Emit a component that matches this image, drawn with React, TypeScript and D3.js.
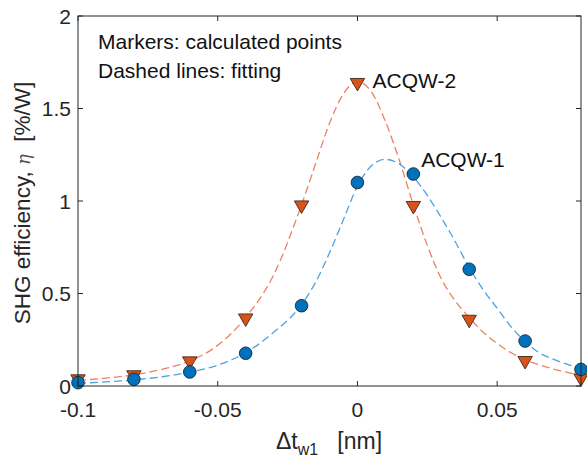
import { useEffect, useRef } from "react";
import * as d3 from "d3";

// calculated points
const dtPoints = [-0.1, -0.08, -0.06, -0.04, -0.02, 0, 0.02, 0.04, 0.06, 0.08];
const acqw1Points = [0.018, 0.036, 0.076, 0.177, 0.434, 1.1, 1.146, 0.631, 0.243, 0.09];
const acqw2Points = [0.038, 0.06, 0.135, 0.367, 0.978, 1.64, 0.975, 0.36, 0.137, 0.043];

// fitted curves
const fitX = [
  -0.1, -0.09, -0.08, -0.07, -0.06, -0.05, -0.04, -0.03, -0.02, -0.015, -0.01, -0.005,
  0, 0.005, 0.01, 0.015, 0.02, 0.025, 0.03, 0.035, 0.04, 0.045, 0.05, 0.055, 0.06,
  0.065, 0.07, 0.075, 0.08,
];
const acqw1Fit = [
  0.015, 0.022, 0.033, 0.05, 0.075, 0.113, 0.18, 0.29, 0.44, 0.56, 0.72, 0.9,
  1.08, 1.19, 1.225, 1.2, 1.13, 1.03, 0.91, 0.78, 0.64, 0.52, 0.42, 0.32, 0.24,
  0.18, 0.145, 0.118, 0.095,
];
const acqw2Fit = [
  0.03, 0.043, 0.06, 0.09, 0.135, 0.22, 0.37, 0.6, 0.98, 1.2, 1.42, 1.58,
  1.645, 1.59, 1.43, 1.22, 0.98, 0.76, 0.58, 0.46, 0.37, 0.29, 0.23, 0.18, 0.142,
  0.115, 0.092, 0.074, 0.058,
];

const xTicks = [-0.1, -0.05, 0, 0.05];
const xTickLabels = ["-0.1", "-0.05", "0", "0.05"];
const yTicks = [0, 0.5, 1, 1.5, 2];
const yTickLabels = ["0", "0.5", "1", "1.5", "2"];

const W = 587, H = 460;
const margin = { left: 78, right: 6, top: 16, bottom: 74 };
const font = "'Liberation Sans', Arial, sans-serif";

export default function App() {
  const ref = useRef<SVGSVGElement>(null);

  useEffect(() => {
    const svg = d3.select(ref.current);
    svg.selectAll("*").remove();

    const x = d3.scaleLinear().domain([-0.1, 0.08]).range([margin.left, W - margin.right]);
    const y = d3.scaleLinear().domain([0, 2]).range([H - margin.bottom, margin.top]);
    const [x0, x1] = x.range();
    const [y0, y1] = y.range();
    const axisColor = "#262626";

    // fitting lines
    const line = d3.line<number>()
      .x((_, i) => x(fitX[i]))
      .y(d => y(d))
      .curve(d3.curveMonotoneX);

    svg.append("path").datum(acqw2Fit)
      .attr("fill", "none").attr("stroke", "#EE8060").attr("stroke-width", 1.3)
      .attr("stroke-dasharray", "8,4").attr("d", line);
    svg.append("path").datum(acqw1Fit)
      .attr("fill", "none").attr("stroke", "#4DA3DF").attr("stroke-width", 1.3)
      .attr("stroke-dasharray", "8,4").attr("d", line);

    // markers
    const tri = d3.symbol(d3.symbolTriangle, 90);
    svg.append("g").selectAll("path").data(acqw2Points).join("path")
      .attr("d", tri)
      .attr("transform", (d, i) => `translate(${x(dtPoints[i])},${y(d)}) rotate(180)`)
      .attr("fill", "#D95319").attr("stroke", "#3a2a20").attr("stroke-width", 0.9);

    svg.append("g").selectAll("circle").data(acqw1Points).join("circle")
      .attr("cx", (_, i) => x(dtPoints[i])).attr("cy", d => y(d)).attr("r", 6.3)
      .attr("fill", "#0072BD").attr("stroke", "#1a2530").attr("stroke-width", 0.9);

    // axes box
    svg.append("rect")
      .attr("x", x0).attr("y", y1).attr("width", x1 - x0).attr("height", y0 - y1)
      .attr("fill", "none").attr("stroke", axisColor).attr("stroke-width", 1);

    const tl = 5;
    xTicks.forEach((t, i) => {
      svg.append("line").attr("x1", x(t)).attr("x2", x(t)).attr("y1", y0).attr("y2", y0 - tl)
        .attr("stroke", axisColor);
      svg.append("line").attr("x1", x(t)).attr("x2", x(t)).attr("y1", y1).attr("y2", y1 + tl)
        .attr("stroke", axisColor);
      svg.append("text").attr("x", x(t)).attr("y", y0 + 31)
        .attr("text-anchor", "middle").attr("font-family", font).attr("font-size", 21)
        .attr("fill", axisColor).text(xTickLabels[i]);
    });
    yTicks.forEach((t, i) => {
      svg.append("line").attr("x1", x0).attr("x2", x0 + tl).attr("y1", y(t)).attr("y2", y(t))
        .attr("stroke", axisColor);
      svg.append("line").attr("x1", x1).attr("x2", x1 - tl).attr("y1", y(t)).attr("y2", y(t))
        .attr("stroke", axisColor);
      svg.append("text").attr("x", x0 - 7).attr("y", y(t) + 7.5)
        .attr("text-anchor", "end").attr("font-family", font).attr("font-size", 21)
        .attr("fill", axisColor).text(yTickLabels[i]);
    });

    // axis labels
    const xl = svg.append("text").attr("x", 329).attr("y", 449)
      .attr("text-anchor", "middle").attr("font-family", font).attr("font-size", 23)
      .attr("fill", axisColor).style("white-space", "pre");
    xl.append("tspan").text("\u0394t");
    xl.append("tspan").attr("dy", 6).attr("font-size", 16).text("w1");
    xl.append("tspan").attr("dy", -6).text("   [nm]");

    const yl = svg.append("text")
      .attr("transform", `translate(30,${(y0 + y1) / 2 + 2}) rotate(-90)`)
      .attr("text-anchor", "middle").attr("font-family", font).attr("font-size", 22.5)
      .attr("fill", axisColor).style("white-space", "pre");
    yl.append("tspan").text("SHG efficiency, ");
    yl.append("tspan").attr("font-family", "'DejaVu Serif', serif").attr("font-style", "italic")
      .attr("font-size", 18).attr("fill", "#555").text("\u03b7");
    yl.append("tspan").text("  [%/W]");

    // annotations
    const ann = (tx: number, ty: number, s: string) =>
      svg.append("text").attr("x", tx).attr("y", ty).attr("font-family", font)
        .attr("font-size", 21).attr("fill", "#111").text(s);
    ann(98, 49, "Markers: calculated points");
    ann(98, 78, "Dashed lines: fitting");
    ann(x(0.0054), y(1.65) + 7.5, "ACQW-2");
    ann(x(0.0228), y(1.227) + 7.5, "ACQW-1");
  }, []);

  return (
    <svg ref={ref} width={W} height={H}
      style={{ position: "absolute", left: 0, top: 0, background: "#fff" }} />
  );
}
